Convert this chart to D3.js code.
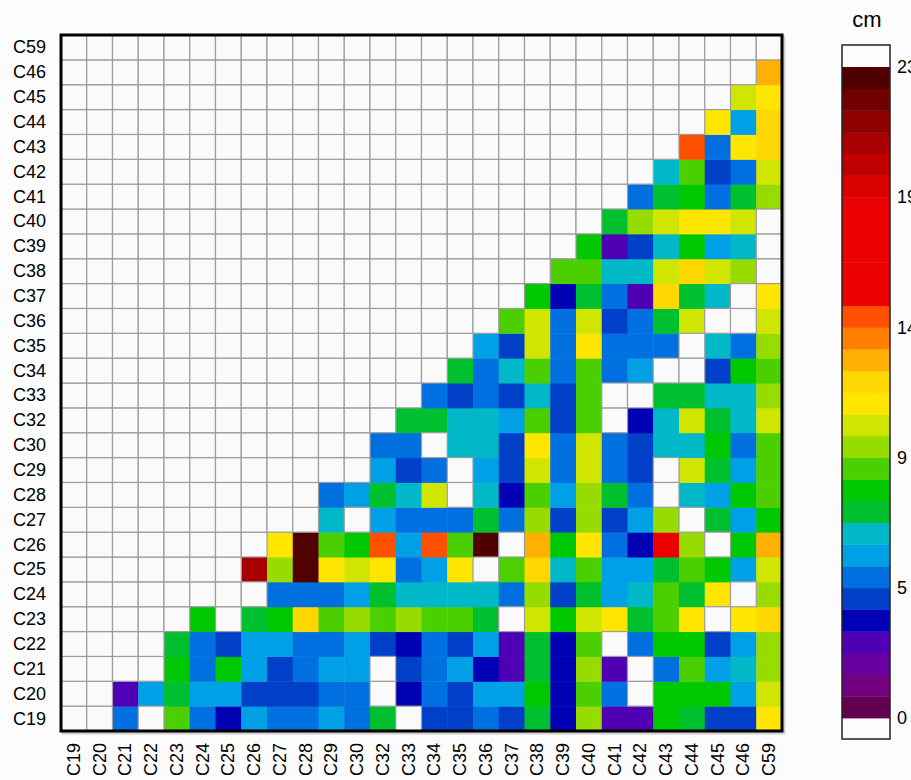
<!DOCTYPE html>
<html><head><meta charset="utf-8">
<script src="https://cdn.jsdelivr.net/npm/d3@7"></script>
<style>
body{margin:0;background:#fcfcfc;}
svg{display:block;font-family:"Liberation Sans",Arial,sans-serif;}
</style>
</head><body>
<svg id="chart" width="911" height="780"></svg>
<script>
const n = null;
// categories (bottom-to-top on y, left-to-right on x)
const categories = ["C19","C20","C21","C22","C23","C24","C25","C26","C27","C28","C29","C30","C32","C33","C34","C35","C36","C37","C38","C39","C40","C41","C42","C43","C44","C45","C46","C59"];
// values (cm) for each row, listed for the columns that follow the row's own category
const rowC19 = [n,5.1,n,9.0,5.1,3.5,5.9,5.1,5.1,5.9,5.1,7.4,n,4.3,4.3,5.1,4.3,7.4,3.5,9.8,2.7,2.7,8.2,7.4,4.3,4.3,11.3];
const rowC20 = [2.7,5.9,7.4,5.9,5.9,4.3,4.3,4.3,5.1,5.1,n,3.5,5.1,4.3,5.9,5.9,8.2,3.5,9.0,5.1,n,8.2,8.2,8.2,5.9,10.5];
const rowC21 = [n,8.2,5.1,8.2,5.9,4.3,5.1,5.9,5.9,n,4.3,5.1,5.9,3.5,2.7,7.4,3.5,9.8,2.7,n,5.1,9.0,5.9,6.6,9.8];
const rowC22 = [7.4,5.1,4.3,5.9,5.9,5.1,5.1,5.9,4.3,3.5,5.1,4.3,5.9,2.7,7.4,3.5,9.0,n,5.1,8.2,8.2,4.3,5.9,9.8];
const rowC23 = [8.2,n,7.4,8.2,12.1,9.0,9.8,9.0,9.8,9.0,9.0,7.4,n,10.5,8.2,10.5,11.3,7.4,9.0,11.3,n,11.3,12.1];
const rowC24 = [n,n,5.1,5.1,5.1,5.9,7.4,6.6,6.6,6.6,6.6,5.1,9.8,4.3,7.4,5.9,6.6,9.0,7.4,11.3,n,9.8];
const rowC25 = [20.7,9.8,23.0,11.3,10.5,11.3,5.1,5.9,11.3,n,9.0,12.1,6.6,9.0,5.9,5.9,7.4,9.0,8.2,5.9,10.5];
const rowC26 = [11.3,23.0,9.0,8.2,14.4,5.9,14.4,9.0,23.0,n,12.9,8.2,11.3,5.1,3.5,16.8,9.8,n,8.2,12.9];
const rowC27 = [n,6.6,n,5.9,5.1,5.1,5.1,7.4,5.1,9.8,4.3,9.8,4.3,5.9,9.8,n,7.4,5.9,8.2];
const rowC28 = [5.1,5.9,7.4,6.6,10.5,n,6.6,3.5,9.0,5.9,9.8,7.4,5.1,n,6.6,5.9,8.2,9.0];
const rowC29 = [n,5.9,4.3,5.1,n,5.9,4.3,10.5,5.1,10.5,5.1,4.3,n,10.5,7.4,5.9,9.0];
const rowC30 = [5.1,5.1,n,6.6,6.6,4.3,11.3,5.1,10.5,5.1,4.3,6.6,6.6,8.2,5.1,9.0];
const rowC32 = [7.4,7.4,6.6,6.6,5.9,9.0,4.3,9.0,n,3.5,6.6,10.5,7.4,6.6,10.5];
const rowC33 = [5.1,4.3,5.1,4.3,6.6,4.3,9.0,n,n,7.4,7.4,6.6,6.6,9.8];
const rowC34 = [7.4,5.1,6.6,9.0,5.1,9.0,5.1,5.9,n,n,4.3,8.2,9.0];
const rowC35 = [5.9,4.3,10.5,5.1,11.3,5.1,5.1,5.1,n,6.6,5.1,9.8];
const rowC36 = [9.0,10.5,5.1,10.5,4.3,5.1,7.4,10.5,n,n,10.5];
const rowC37 = [8.2,3.5,7.4,5.1,2.7,12.1,7.4,6.6,n,11.3];
const rowC38 = [9.0,9.0,6.6,6.6,10.5,12.1,10.5,9.8,n];
const rowC39 = [8.2,2.7,4.3,6.6,8.2,5.9,6.6,n];
const rowC40 = [7.4,9.8,10.5,11.3,11.3,10.5,n];
const rowC41 = [5.1,7.4,8.2,5.1,7.4,9.8];
const rowC42 = [6.6,9.0,4.3,5.1,10.5];
const rowC43 = [14.4,5.1,11.3,12.1];
const rowC44 = [11.3,5.9,12.1];
const rowC45 = [10.5,11.3];
const rowC46 = [12.9];
const rowC59 = [];
const rows = [rowC19,rowC20,rowC21,rowC22,rowC23,rowC24,rowC25,rowC26,rowC27,rowC28,rowC29,rowC30,rowC32,rowC33,rowC34,rowC35,rowC36,rowC37,rowC38,rowC39,rowC40,rowC41,rowC42,rowC43,rowC44,rowC45,rowC46,rowC59];

const vMax = 23.4;
const tickLabels = ["0","5","9","14","19","23"];
const palette = ["#640050","#720080","#6800a0","#5000b4","#0000b4","#0040c8","#0070e0","#00a0e6","#00b8c8","#00c030",
  "#00c800","#4ccf00","#96dc00","#d0e600","#ffe600","#ffd700","#ffb000","#ff8000","#ff5000","#ea0000",
  "#ea0000","#ea0000","#ea0000","#ea0000","#d80000","#c00000","#a80000","#8c0000","#700000","#500000"];

const svg = d3.select("#chart");
const L = 61, R = 782, T = 35, B = 731;
const x = d3.scaleBand().domain(categories).range([L, R]);
const y = d3.scaleBand().domain(categories).range([B, T]);
const color = d3.scaleQuantize().domain([0, vMax]).range(palette);

const cells = [];
categories.forEach((rc, i) => {
  categories.forEach((cc, j) => {
    const v = j > i ? rows[i][j - i - 1] : null;
    cells.push({row: rc, col: cc, v: (v === undefined ? null : v)});
  });
});

// shadow
svg.append("rect").attr("x", L+2).attr("y", T+2).attr("width", R-L).attr("height", B-T)
  .attr("fill", "none").attr("stroke", "#d0d0d0").attr("stroke-width", 3);

const g = svg.append("g");
g.selectAll("rect.val").data(cells.filter(d => d.v !== null)).join("rect")
  .attr("class","val")
  .attr("x", d => x(d.col)).attr("y", d => y(d.row))
  .attr("width", x.bandwidth()+0.5).attr("height", y.bandwidth()+0.5)
  .attr("fill", d => color(d.v));
g.selectAll("rect.nan").data(cells.filter(d => d.v === null)).join("rect")
  .attr("class","nan")
  .attr("x", d => x(d.col)).attr("y", d => y(d.row))
  .attr("width", x.bandwidth()).attr("height", y.bandwidth())
  .attr("fill", "#fafafa").attr("stroke", "#9c9c9c").attr("stroke-width", 1.2);

svg.append("rect").attr("x", L).attr("y", T).attr("width", R-L).attr("height", B-T)
  .attr("fill", "none").attr("stroke", "#000").attr("stroke-width", 3);

// y labels
svg.append("g").selectAll("text").data(categories).join("text")
  .attr("x", 46).attr("y", d => y(d) + y.bandwidth()/2)
  .attr("text-anchor", "end").attr("dominant-baseline", "central")
  .attr("font-size", 18).attr("fill", "#000").text(d => d);
// x labels
svg.append("g").selectAll("text").data(categories).join("text")
  .attr("transform", d => `translate(${x(d) + x.bandwidth()/2},743) rotate(-90)`)
  .attr("text-anchor", "end").attr("dominant-baseline", "central")
  .attr("font-size", 18).attr("fill", "#000").text(d => d);

// colorbar
const cbX = 842, cbW = 48, cbTop = 45, cbBot = 739;
const cb = d3.scaleLinear().domain([0, vMax]).range([718, 67]);
svg.append("rect").attr("x", cbX).attr("y", cbTop).attr("width", cbW).attr("height", cbBot-cbTop)
  .attr("fill", "#fcfcfc");
const step = vMax / palette.length;
svg.append("g").selectAll("rect").data(palette).join("rect")
  .attr("x", cbX).attr("width", cbW)
  .attr("y", (c, i) => cb((i+1)*step))
  .attr("height", (c, i) => cb(i*step) - cb((i+1)*step) + 0.4)
  .attr("fill", c => c);
svg.append("rect").attr("x", cbX).attr("y", cbTop).attr("width", cbW).attr("height", cbBot-cbTop)
  .attr("fill", "none").attr("stroke", "#222").attr("stroke-width", 1.5);
const tickVals = tickLabels.map((t, k) => k * vMax / (tickLabels.length - 1));
const axis = d3.axisRight(cb).tickValues(tickVals).tickSize(0).tickPadding(7)
  .tickFormat((d, k) => tickLabels[k]);
const ag = svg.append("g").attr("transform", `translate(${cbX+cbW},0)`).call(axis);
ag.select(".domain").remove();
ag.selectAll("text").attr("font-size", 18).attr("fill", "#000")
  .attr("font-family", '"Liberation Sans",Arial,sans-serif');
svg.append("text").attr("x", 867).attr("y", 19).attr("text-anchor", "middle")
  .attr("dominant-baseline", "central").attr("font-size", 22).text("cm");
</script>
</body></html>
